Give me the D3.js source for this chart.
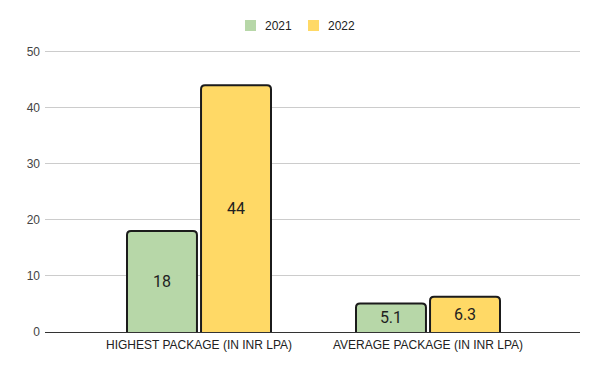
<!DOCTYPE html>
<html><head><meta charset="utf-8">
<script src="https://cdn.jsdelivr.net/npm/d3@7"></script>
<style>body{margin:0;background:#fff}svg{display:block;font-family:"Liberation Sans",Arial,sans-serif}</style>
</head><body><svg id="c" width="600" height="371"></svg>
<script>
const categories = ["HIGHEST PACKAGE (IN INR LPA)", "AVERAGE PACKAGE (IN INR LPA)"];
const seriesNames = ["2021", "2022"];
const values2021 = [18, 5.1];
const values2022 = [44, 6.3];
const yTicks = [0, 10, 20, 30, 40, 50];
const colors = ["#b7d7a8", "#ffd966"];

const svg = d3.select("#c");
const left = 45, right = 580;
const y = d3.scaleLinear().domain([0, 50]).range([332, 51.5]);
const x0 = d3.scaleBand().domain(categories).range([84.5, 542.5]).paddingInner(0).paddingOuter(0);
const x1 = d3.scaleBand().domain(seriesNames).range([x0.bandwidth()/2 - 73, x0.bandwidth()/2 + 73]).paddingInner(0.028);

// gridlines
svg.append("g").selectAll("line").data(yTicks.filter(d => d > 0)).join("line")
  .attr("x1", left).attr("x2", right)
  .attr("y1", d => y(d)).attr("y2", d => y(d))
  .attr("stroke", "#cccccc").attr("stroke-width", 1).attr("shape-rendering", "crispEdges");

// y labels
svg.append("g").selectAll("text").data(yTicks).join("text")
  .attr("x", 40).attr("y", d => y(d)).attr("dy", "0.35em")
  .attr("text-anchor", "end").attr("font-size", 12).attr("fill", "#444")
  .text(d => d);

const data = categories.map((c, i) => ({cat: c, vals: [values2021[i], values2022[i]]}));
const r = 4;
function barPath(x, w, y0, y1) {
  return `M${x},${y0} L${x},${y1 + r} Q${x},${y1} ${x + r},${y1} L${x + w - r},${y1} Q${x + w},${y1} ${x + w},${y1 + r} L${x + w},${y0}`;
}
const g = svg.append("g");
data.forEach(d => {
  d.vals.forEach((v, j) => {
    const xs = x0(d.cat) + x1(seriesNames[j]);
    const w = x1.bandwidth();
    g.append("path")
      .attr("d", barPath(xs + 1, w - 2, y(0), y(v)))
      .attr("fill", colors[j]).attr("stroke", "#1b1b1b").attr("stroke-width", 2);
    g.append("text")
      .attr("x", xs + w / 2).attr("y", (y(0) + y(v)) / 2).attr("dy", "0.36em")
      .attr("text-anchor", "middle").attr("font-size", 16).attr("fill", "#1f1f1f")
      .attr("font-family", "Roboto, sans-serif")
      .text(v);
  });
});

// baseline
svg.append("line").attr("x1", left).attr("x2", right).attr("y1", y(0)).attr("y2", y(0))
  .attr("stroke", "#333").attr("stroke-width", 1).attr("shape-rendering", "crispEdges");

// x labels
svg.append("g").selectAll("text").data(categories).join("text")
  .attr("x", d => x0(d) + x0.bandwidth() / 2).attr("y", 349)
  .attr("text-anchor", "middle").attr("font-size", 12).attr("fill", "#222")
  .text(d => d);

// legend
const legX = [245, 308];
seriesNames.forEach((s, i) => {
  svg.append("rect").attr("x", legX[i]).attr("y", 20).attr("width", 11).attr("height", 11).attr("fill", colors[i]);
  svg.append("text").attr("x", legX[i] + 20).attr("y", 25.5).attr("dy", "0.35em")
    .attr("font-size", 12).attr("fill", "#222").text(s);
});
</script></body></html>
